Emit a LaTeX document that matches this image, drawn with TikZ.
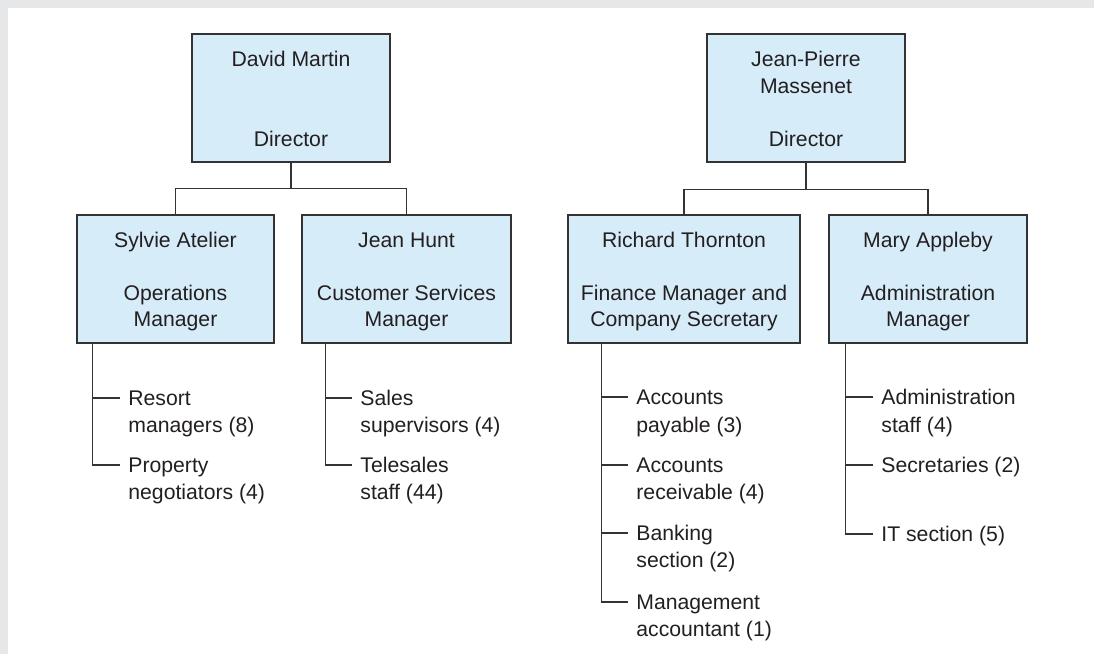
\documentclass[tikz,border=0pt]{standalone}
\usepackage{fontspec}
\setmainfont{Liberation Sans}
\definecolor{boxc}{RGB}{214,236,249}
\definecolor{linec}{RGB}{51,51,51}
\definecolor{txtc}{RGB}{35,31,32}
\definecolor{framec}{RGB}{230,231,233}
\tikzset{
  box/.style={draw=linec, fill=boxc, line width=0.65pt, inner sep=0pt, minimum height=64pt},
  lbl/.style={anchor=base, inner sep=0pt, font=\fontsize{10.6}{13.5}\selectfont, text=txtc},
  itm/.style={anchor=west, inner xsep=4pt, inner ysep=0pt, text height=7pt, text depth=0pt, font=\fontsize{10.6}{13.5}\selectfont, text=txtc},
  itmb/.style={anchor=base west, inner sep=0pt, font=\fontsize{10.6}{13.5}\selectfont, text=txtc},
  conn/.style={draw=linec, line width=0.6pt}
}
\begin{document}
\begin{tikzpicture}[x=0.5pt,y=-0.5pt]
\useasboundingbox (0,0) rectangle (1094,654);
\fill[framec] (0,0) rectangle (1094,654);
\fill[white] (8,8) rectangle (1094,654);

% boxes
\node[box, minimum width=99pt] (dm) at (291,98) {};
\node[box, minimum width=99pt] (jp) at (806,98) {};
\node[box, minimum width=98.5pt] (sa) at (175.5,279) {};
\node[box, minimum width=104.5pt] (jh) at (406.5,279) {};
\node[box, minimum width=116pt] (rt) at (684,279) {};
\node[box, minimum width=99pt] (ma) at (928,279) {};

% box texts
\node[lbl] (dm1) at (291,66) {David Martin};
\node[lbl] (dm2) at (291,146) {Director};
\node[lbl] (jp1) at (806,66) {Jean-Pierre};
\node[lbl] (jp2) at (806,93) {Massenet};
\node[lbl] (jp3) at (806,146) {Director};
\node[lbl] (sa1) at (175.5,247) {Sylvie Atelier};
\node[lbl] (sa2) at (175.5,300) {Operations};
\node[lbl] (sa3) at (175.5,326) {Manager};
\node[lbl] (jh1) at (406.5,247) {Jean Hunt};
\node[lbl] (jh2) at (406.5,300) {Customer Services};
\node[lbl] (jh3) at (406.5,326) {Manager};
\node[lbl] (rt1) at (684,247) {Richard Thornton};
\node[lbl] (rt2) at (684,300) {Finance Manager and};
\node[lbl] (rt3) at (684,326) {Company Secretary};
\node[lbl] (ma1) at (928,247) {Mary Appleby};
\node[lbl] (ma2) at (928,300) {Administration};
\node[lbl] (ma3) at (928,326) {Manager};

% tree connectors
\draw[conn] (dm.south) -- ++(0,26) -| (sa.north);
\draw[conn] (dm.south) -- ++(0,26) -| (jh.north);
\draw[conn] (jp.south) -- ++(0,27) -| (rt.north);
\draw[conn] (jp.south) -- ++(0,27) -| (ma.north);

% Sylvie items
\node[itm] (ra) at (120,398) {Resort};
\node[itmb] (ra2) at (128,432) {managers (8)};
\node[itm] (pn) at (120,465) {Property};
\node[itmb] (pn2) at (128,499) {negotiators (4)};
\draw[conn] ([xshift=8pt]sa.south west) |- (pn.west);
\draw[conn] (ra.west) -- ++(-27,0);

% Jean Hunt items
\node[itm] (ss) at (352,398) {Sales};
\node[itmb] (ss2) at (360,432) {supervisors (4)};
\node[itm] (ts) at (352,465) {Telesales};
\node[itmb] (ts2) at (360,499) {staff (44)};
\draw[conn] ([xshift=12pt]jh.south west) |- (ts.west);
\draw[conn] (ss.west) -- ++(-26,0);

% Richard items
\node[itm] (ap) at (628,397) {Accounts};
\node[itmb] (ap2) at (636,432) {payable (3)};
\node[itm] (ar) at (628,465) {Accounts};
\node[itmb] (ar2) at (636,499) {receivable (4)};
\node[itm] (bs) at (628,533) {Banking};
\node[itmb] (bs2) at (636,567) {section (2)};
\node[itm] (mac) at (628,602) {Management};
\node[itmb] (mac2) at (636,636) {accountant (1)};
\draw[conn] ([xshift=17pt]rt.south west) |- (mac.west);
\draw[conn] (ap.west) -- ++(-26,0);
\draw[conn] (ar.west) -- ++(-26,0);
\draw[conn] (bs.west) -- ++(-26,0);

% Mary items
\node[itm] (as) at (873,397) {Administration};
\node[itmb] (as2) at (881,432) {staff (4)};
\node[itm] (se) at (873,465) {Secretaries (2)};
\node[itm] (it) at (873,534) {IT section (5)};
\draw[conn] ([xshift=8.5pt]ma.south west) |- (it.west);
\draw[conn] (as.west) -- ++(-27,0);
\draw[conn] (se.west) -- ++(-27,0);
\end{tikzpicture}
\end{document}
